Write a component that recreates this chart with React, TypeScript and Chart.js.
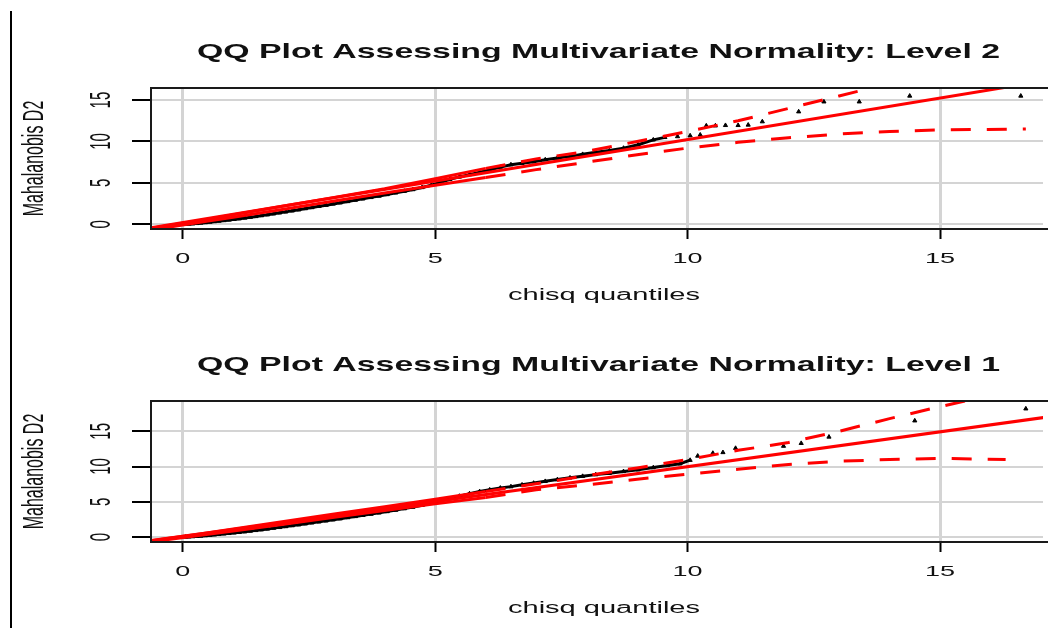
import React, { useEffect, useRef } from "react";
import { Chart, registerables } from "chart.js";

Chart.register(...registerables);

// ---------- shared text / ticks ----------
const xTickValues = [0, 5, 10, 15];
const yTickValues = [0, 5, 10, 15];
const xAxisLabel = "chisq quantiles";
const yAxisLabel = "Mahalanobis D2";
const titleLevel2 = "QQ Plot Assessing Multivariate Normality: Level 2";
const titleLevel1 = "QQ Plot Assessing Multivariate Normality: Level 1";

// ---------- Level 2 panel ----------
const lvl2Quantiles = [
  0.05, 0.12, 0.2, 0.28, 0.36, 0.45, 0.54, 0.63, 0.72, 0.82, 0.92, 1.02, 1.12, 1.23, 1.34, 1.45,
  1.56, 1.68, 1.8, 1.92, 2.04, 2.17, 2.3, 2.43, 2.56, 2.7, 2.84, 2.98, 3.12, 3.27, 3.42, 3.57,
  3.73, 3.89, 4.05, 4.22, 4.39, 4.56, 4.74, 4.92, 5.1, 5.29, 5.48, 5.68, 5.88, 6.08, 6.29, 6.5,
  6.72, 6.95, 7.18, 7.42, 7.67, 7.92, 8.18, 8.45, 8.73, 9.02, 9.32, 9.55, 9.8, 10.05, 10.25,
  10.37, 10.55, 10.75, 11.0, 11.2, 11.48, 12.2, 12.7, 13.4, 14.4, 16.6,
];
const lvl2D2 = [
  0.0, 0.03, 0.07, 0.11, 0.16, 0.21, 0.27, 0.33, 0.39, 0.46, 0.53, 0.6, 0.68, 0.77, 0.86, 0.95,
  1.05, 1.16, 1.27, 1.39, 1.5, 1.63, 1.76, 1.9, 2.03, 2.17, 2.31, 2.46, 2.6, 2.76, 2.92, 3.08,
  3.25, 3.42, 3.6, 3.8, 4.0, 4.2, 4.45, 4.72, 5.05, 5.42, 5.72, 6.0, 6.28, 6.55, 6.9, 7.2,
  7.38, 7.55, 7.8, 8.0, 8.2, 8.45, 8.7, 8.9, 9.2, 9.6, 10.2, 10.5, 10.6, 10.7, 10.8,
  11.9, 11.9, 11.95, 11.95, 12.0, 12.4, 13.6, 14.8, 14.8, 15.5, 15.5,
];
const lvl2LineX = [-0.7, 17.2];
const lvl2LineY = [-0.5, 17.45];
const lvl2UpperX = [-0.7, 0.5, 1, 2, 3, 4, 5, 6, 7, 8, 9, 10, 11, 12, 13, 14];
const lvl2UpperY = [-0.55, 0.6, 1.15, 2.2, 3.25, 4.3, 5.5, 6.75, 7.9, 8.8, 10.0, 11.2, 12.5, 14.0, 15.5, 17.0];
const lvl2LowerX = [-0.7, 0.5, 1, 2, 3, 4, 5, 6, 7, 8, 9, 10, 11, 12, 13, 14, 15, 16.7];
const lvl2LowerY = [-0.75, 0.38, 0.85, 1.82, 2.8, 3.78, 4.72, 5.65, 6.6, 7.5, 8.4, 9.2, 9.9, 10.45, 10.9, 11.2, 11.4, 11.5];

// ---------- Level 1 panel ----------
const lvl1Quantiles = [
  0.05, 0.12, 0.2, 0.28, 0.36, 0.45, 0.54, 0.63, 0.72, 0.82, 0.92, 1.02, 1.12, 1.23, 1.34, 1.45,
  1.56, 1.68, 1.8, 1.92, 2.04, 2.17, 2.3, 2.43, 2.56, 2.7, 2.84, 2.98, 3.12, 3.27, 3.42, 3.57,
  3.73, 3.89, 4.05, 4.22, 4.39, 4.56, 4.74, 4.92, 5.1, 5.29, 5.48, 5.68, 5.88, 6.08, 6.29, 6.5,
  6.72, 6.95, 7.18, 7.42, 7.67, 7.92, 8.18, 8.45, 8.73, 9.02, 9.32, 9.6, 9.85, 10.05, 10.2,
  10.5, 10.7, 10.95, 11.9, 12.25, 12.8, 14.5, 16.7,
];
const lvl1D2 = [
  0.0, 0.02, 0.06, 0.1, 0.15, 0.2, 0.26, 0.32, 0.38, 0.45, 0.52, 0.59, 0.67, 0.76, 0.85, 0.94,
  1.04, 1.15, 1.26, 1.37, 1.49, 1.62, 1.75, 1.88, 2.02, 2.16, 2.3, 2.45, 2.6, 2.76, 2.92, 3.08,
  3.25, 3.43, 3.62, 3.82, 4.03, 4.25, 4.5, 4.78, 5.1, 5.45, 5.8, 6.15, 6.45, 6.7, 6.95, 7.15,
  7.4, 7.65, 7.9, 8.15, 8.4, 8.62, 8.85, 9.05, 9.3, 9.55, 9.85, 10.15, 10.4, 10.9, 11.5,
  11.9, 12.0, 12.6, 12.9, 13.3, 14.2, 16.5, 18.2,
];
const lvl1LineX = [-0.7, 17.2];
const lvl1LineY = [-0.6, 17.1];
const lvl1UpperX = [-0.7, 0.5, 1, 2, 3, 4, 5, 6, 7, 8, 9, 10, 11, 12, 13, 14, 15, 15.8];
const lvl1UpperY = [-0.55, 0.6, 1.15, 2.2, 3.25, 4.3, 5.35, 6.45, 7.55, 8.7, 9.8, 11.0, 12.3, 13.4, 15.0, 16.8, 18.5, 19.8];
const lvl1LowerX = [-0.7, 0.5, 1, 2, 3, 4, 5, 6, 7, 8, 9, 10, 11, 12, 13, 14, 15, 16.3];
const lvl1LowerY = [-0.75, 0.38, 0.85, 1.82, 2.8, 3.75, 4.7, 5.6, 6.7, 7.4, 8.2, 8.9, 9.6, 10.3, 10.75, 11.0, 11.15, 11.0];

const FONT = '"Liberation Sans", Arial, sans-serif';
const TEXT = "#111";
const DASH = [20, 16];

function pts(xs: number[], ys: number[]) {
  return xs.map((x, i) => ({ x, y: ys[i] }));
}

type PanelProps = {
  title: string;
  top: number;
  quantiles: number[];
  d2: number[];
  denseLimit: number;
  lineX: number[];
  lineY: number[];
  upperX: number[];
  upperY: number[];
  lowerX: number[];
  lowerY: number[];
  yMin: number;
  yMax: number;
};

const X_MIN = -0.63;
const X_MAX = 17.04;

function Panel(p: PanelProps) {
  const ref = useRef<HTMLCanvasElement | null>(null);
  useEffect(() => {
    if (!ref.current) return;
    const textPlugin = {
      id: "rtext",
      afterDraw(chart: any) {
        const ctx = chart.ctx as CanvasRenderingContext2D;
        const a = chart.chartArea;
        const xs = chart.scales.x;
        const ys = chart.scales.y;
        ctx.save();
        ctx.strokeStyle = "#1a1a1a";
        ctx.lineWidth = 2;
        ctx.beginPath();
        ctx.moveTo(a.right + 5, a.top);
        ctx.lineTo(a.left, a.top);
        ctx.lineTo(a.left, a.bottom);
        ctx.lineTo(a.right + 5, a.bottom);
        ctx.stroke();

        ctx.fillStyle = TEXT;
        ctx.font = `bold 21px ${FONT}`;
        const tw = ctx.measureText(p.title).width;
        ctx.save();
        ctx.translate(598.5, 58);
        ctx.scale(803 / tw, 1);
        ctx.textAlign = "center";
        ctx.textBaseline = "alphabetic";
        ctx.fillText(p.title, 0, 0);
        ctx.restore();

        ctx.font = `15px ${FONT}`;
        ctx.textAlign = "center";
        ctx.textBaseline = "alphabetic";
        xTickValues.forEach((v) => {
          const px = xs.getPixelForValue(v);
          ctx.save();
          ctx.translate(px, 263);
          ctx.scale(1.8, 1);
          ctx.fillText(String(v), 0, 0);
          ctx.restore();
        });

        ctx.font = `16px ${FONT}`;
        const lw = ctx.measureText(xAxisLabel).width;
        ctx.save();
        ctx.translate(604, 300);
        ctx.scale(192 / lw, 1);
        ctx.fillText(xAxisLabel, 0, 0);
        ctx.restore();

        ctx.font = `15px ${FONT}`;
        yTickValues.forEach((v) => {
          const py = ys.getPixelForValue(v);
          ctx.save();
          ctx.translate(110, py);
          ctx.rotate(-Math.PI / 2);
          ctx.scale(1, 2.0);
          ctx.fillText(String(v), 0, 0);
          ctx.restore();
        });

        ctx.font = `16px ${FONT}`;
        ctx.save();
        ctx.translate(43, (a.top + a.bottom) / 2);
        ctx.rotate(-Math.PI / 2);
        ctx.scale(1, 1.83);
        ctx.fillText(yAxisLabel, 0, 0);
        ctx.restore();

        ctx.restore();
      },
    };

    const envelopeSegment = {
      borderDash: (c: any) => (c.p0.parsed.x < 6 ? [] : DASH),
    };

    const chart = new Chart(ref.current, {
      type: "scatter",
      data: {
        datasets: [
          {
            data: pts(p.lineX, p.lineY),
            showLine: true,
            borderColor: "#ff0000",
            borderWidth: 3,
            pointRadius: 0,
          },
          {
            data: pts(p.upperX, p.upperY),
            showLine: true,
            borderColor: "#ff0000",
            borderWidth: 3,
            borderDash: DASH,
            segment: envelopeSegment,
            pointRadius: 0,
          },
          {
            data: pts(p.lowerX, p.lowerY),
            showLine: true,
            borderColor: "#ff0000",
            borderWidth: 3,
            borderDash: DASH,
            segment: envelopeSegment,
            pointRadius: 0,
          },
          {
            data: pts(p.quantiles, p.d2),
            showLine: true,
            borderWidth: 3,
            borderColor: "#000",
            segment: {
              borderColor: (c: any) =>
                c.p1.parsed.x > p.denseLimit || c.p1.parsed.x - c.p0.parsed.x > 0.45
                  ? "rgba(0,0,0,0)"
                  : "#000",
            },
            pointStyle: "triangle",
            pointRadius: 2.4,
            backgroundColor: "#000",
            pointBorderColor: "#000",
            pointBorderWidth: 1,
          },
        ],
      },
      options: {
        animation: false,
        responsive: false,
        devicePixelRatio: 1,
        events: [],
        layout: { padding: { top: 88, left: 0, right: 0, bottom: 0 } },
        plugins: {
          legend: { display: false },
          tooltip: { enabled: false },
          title: { display: false },
        },
        scales: {
          x: {
            type: "linear",
            min: X_MIN,
            max: X_MAX,
            afterBuildTicks: (s: any) => {
              s.ticks = xTickValues.map((v) => ({ value: v }));
            },
            afterFit: (s: any) => {
              s.height = 86;
            },
            ticks: { display: false },
            grid: {
              color: "#d4d4d4",
              lineWidth: 3,
              drawTicks: true,
              tickLength: 10,
              tickColor: "#000",
              tickWidth: 2,
            },
            border: { display: false },
          },
          y: {
            type: "linear",
            min: p.yMin,
            max: p.yMax,
            afterBuildTicks: (s: any) => {
              s.ticks = yTickValues.map((v) => ({ value: v }));
            },
            afterFit: (s: any) => {
              s.width = 151;
            },
            ticks: { display: false },
            grid: {
              color: "#d4d4d4",
              lineWidth: 2,
              drawTicks: true,
              tickLength: 19,
              tickColor: "#000",
              tickWidth: 2,
            },
            border: { display: false },
          },
        },
      },
      plugins: [textPlugin],
    } as any);
    return () => chart.destroy();
  }, []);
  return (
    <canvas
      ref={ref}
      width={1048}
      height={315}
      style={{ position: "absolute", left: 0, top: p.top, width: 1048, height: 315, display: "block" }}
    />
  );
}

export default function App() {
  return (
    <div
      style={{
        position: "absolute",
        left: 0,
        top: 0,
        width: 1048,
        height: 628,
        overflow: "hidden",
        background: "#fff",
      }}
    >
      <div style={{ position: "absolute", left: 10, top: 11, width: 2, height: 617, background: "#000" }} />
      <Panel
        title={titleLevel2}
        top={0}
        quantiles={lvl2Quantiles}
        d2={lvl2D2}
        denseLimit={9.6}
        lineX={lvl2LineX}
        lineY={lvl2LineY}
        upperX={lvl2UpperX}
        upperY={lvl2UpperY}
        lowerX={lvl2LowerX}
        lowerY={lvl2LowerY}
        yMin={-0.57}
        yMax={16.46}
      />
      <Panel
        title={titleLevel1}
        top={313}
        quantiles={lvl1Quantiles}
        d2={lvl1D2}
        denseLimit={10.1}
        lineX={lvl1LineX}
        lineY={lvl1LineY}
        upperX={lvl1UpperX}
        upperY={lvl1UpperY}
        lowerX={lvl1LowerX}
        lowerY={lvl1LowerY}
        yMin={-0.71}
        yMax={19.3}
      />
    </div>
  );
}
